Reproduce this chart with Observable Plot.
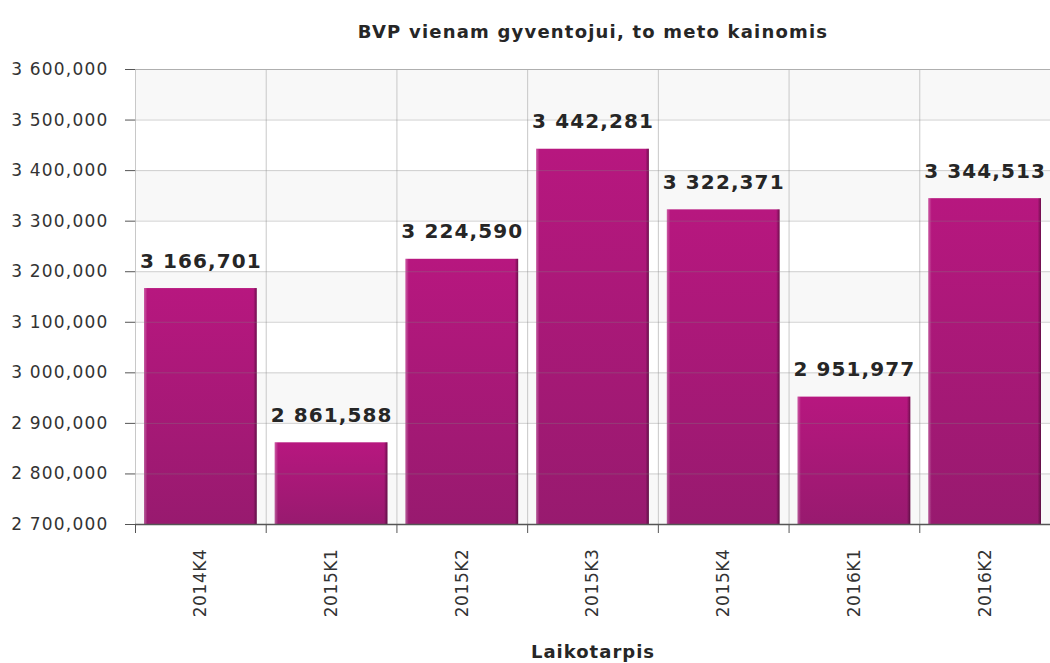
<!DOCTYPE html>
<html>
<head>
<meta charset="utf-8">
<script src="https://cdn.jsdelivr.net/npm/d3@7"></script>
<script src="https://cdn.jsdelivr.net/npm/@observablehq/plot@0.6"></script>
<style>
  html, body { margin: 0; padding: 0; background: #fff; }
  #chart svg { display: block; }
  #chart g[aria-label="y-axis tick label"] text { letter-spacing: 1.2px; }
  #chart g[aria-label="x-axis tick label"] text { letter-spacing: 0.6px; }
</style>
</head>
<body>
<div id="chart"></div>
<script>
const categories = ["2014K4", "2015K1", "2015K2", "2015K3", "2015K4", "2016K1", "2016K2"];
const values = [3166.701, 2861.588, 3224.590, 3442.281, 3322.371, 2951.977, 3344.513];
const yTicks = [2700, 2800, 2900, 3000, 3100, 3200, 3300, 3400, 3500, 3600];
const title = "BVP vienam gyventojui, to meto kainomis";
const xLabel = "Laikotarpis";

const data = categories.map((c, i) => ({category: c, value: values[i]}));
const yMin = yTicks[0], yMax = yTicks[yTicks.length - 1];
const stripes = yTicks.slice(0, -1).map((t, i) => ({y1: t, y2: yTicks[i + 1], odd: i % 2 === 0}))
  .filter(d => d.odd);

const locale = d3.formatLocale({decimal: ",", thousands: " ", grouping: [3], currency: ["", ""]});
const fmt = locale.format(",.3f");

const W = 1050, H = 663, mL = 135, mR = 0, mT = 69, mB = 139;
const bw = (W - mL - mR) / categories.length;
const font = "DejaVu Sans, Verdana, sans-serif";

const chart = Plot.plot({
  width: W, height: H,
  marginLeft: mL, marginRight: mR, marginTop: mT, marginBottom: mB,
  style: {fontFamily: font, background: "#fff", overflow: "visible"},
  x: {domain: categories, padding: 0, round: false, label: null},
  y: {domain: [yMin, yMax], label: null},
  marks: [
    Plot.rect(stripes, {y1: "y1", y2: "y2", fill: "#f8f8f8"}),
    Plot.gridX(categories, {dx: -bw / 2, stroke: "#c8c8c8", strokeOpacity: 1}),
    Plot.frame({stroke: "#c8c8c8"}),
    Plot.barY(data, {x: "category", y1: yMin, y2: "value", fill: "url(#barGrad)", insetLeft: 9, insetRight: 9}),
    Plot.barY(data, {x: "category", y1: yMin, y2: "value", fill: "url(#edgeGrad)", insetLeft: 9, insetRight: 9}),
    Plot.gridY(yTicks, {stroke: "#808080", strokeOpacity: 0.35}),
    Plot.text(data, {x: "category", y: "value", text: d => fmt(d.value), lineAnchor: "bottom", dy: -21,
      fontSize: 20, fontWeight: "bold", fill: "#262626"}),
    Plot.axisY({ticks: yTicks, tickFormat: d => fmt(d), tickSize: 10, tickPadding: 17, fontSize: 17,
      color: "#333", stroke: "#555"}),
    Plot.ruleX([0], {frameAnchor: "left", stroke: "#555", strokeWidth: 1.5}),
    Plot.ruleY([yMin], {stroke: "#555", strokeWidth: 1.5}),
    Plot.axisX({tickSize: 9, text: null, dx: -bw / 2, stroke: "#555"}),
    Plot.axisX({tickSize: 0, tickRotate: -90, tickPadding: 24, fontSize: 17, color: "#333"}),
    Plot.text([title], {frameAnchor: "top", dy: -37, fontSize: 18, fontWeight: "bold", fill: "#262626",
      lineAnchor: "middle"}),
    Plot.text([xLabel], {frameAnchor: "bottom", dy: 128, fontSize: 18, fontWeight: "bold", fill: "#262626",
      lineAnchor: "middle"})
  ]
});

// letter spacing for text marks (value labels, title, axis title), in mark order
const textGroups = d3.select(chart).selectAll('g[aria-label="text"]').nodes();
const spacings = ["1.1px", "1.2px", "1px"];
textGroups.forEach((g, i) => d3.select(g).style("letter-spacing", spacings[i] || null));

d3.select(chart).insert("defs", ":first-child").html(`
  <linearGradient id="barGrad" x1="0" y1="0" x2="0" y2="1">
    <stop offset="0%" stop-color="#b7177f"/>
    <stop offset="100%" stop-color="#981a6f"/>
  </linearGradient>
  <linearGradient id="edgeGrad" x1="0" y1="0" x2="1" y2="0">
    <stop offset="0%" stop-color="#ffffff" stop-opacity="0.3"/>
    <stop offset="3%" stop-color="#ffffff" stop-opacity="0"/>
    <stop offset="97%" stop-color="#000000" stop-opacity="0"/>
    <stop offset="100%" stop-color="#000000" stop-opacity="0.4"/>
  </linearGradient>
`);
document.getElementById("chart").appendChild(chart);
</script>
</body>
</html>
